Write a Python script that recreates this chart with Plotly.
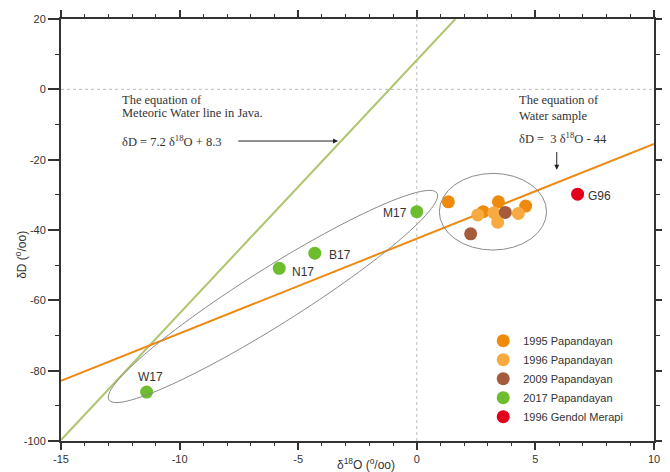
import numpy as np
import plotly.graph_objects as go

# ---- data (delta18O, deltaD) ----
p1995_x = [1.33, 3.44, 4.59, 2.80]
p1995_y = [-32.0, -32.0, -33.2, -34.8]
p1996_x = [2.57, 3.25, 3.41, 4.28]
p1996_y = [-35.7, -35.1, -37.8, -35.3]
p2009_x = [3.73, 2.27]
p2009_y = [-35.0, -41.1]
p2017_x = [-11.39, -5.80, -4.30, 0.0]
p2017_y = [-86.1, -50.9, -46.6, -34.8]
p2017_lbl = ["W17", "N17", "B17", "M17"]
g96_x = [6.78]
g96_y = [-29.8]
g96_lbl = ["G96"]

mwl_slope, mwl_int = 7.2, 8.3           # meteoric water line
mwl_x = [-15.0, (20 - 8.3) / 7.2]
ws_x = [-15.0, 10.0]                      # water-sample line as drawn
ws_y = [-82.9, -15.5]

x_tickvals = [-15, -10, -5, 0, 5, 10]
x_ticktext = ["-15", "-10", "-5", "0", "5", "10"]
y_tickvals = [20, 0, -20, -40, -60, -80, -100]
y_ticktext = ["20", "0", "-20", "-40", "-60", "-80", "-100"]

X_RANGE = [-15, 10]
Y_RANGE = [-100, 20]

FONT = "Liberation Sans, Arial, sans-serif"
SERIF = "Liberation Serif, Times New Roman, serif"
TXT = "#333333"

fig = go.Figure()

# reference dotted lines
fig.add_shape(type="line", x0=0, x1=0, y0=Y_RANGE[0], y1=Y_RANGE[1], xref="x", yref="y",
              line=dict(color="#bbbbbb", width=1, dash="dot"), layer="below")
fig.add_shape(type="line", x0=X_RANGE[0], x1=X_RANGE[1], y0=0, y1=0, xref="x", yref="y",
              line=dict(color="#bbbbbb", width=1, dash="dot"), layer="below")

# meteoric water line
fig.add_trace(go.Scatter(x=mwl_x, y=[mwl_slope * v + mwl_int for v in mwl_x], mode="lines",
                         line=dict(color="#aec56f", width=2), showlegend=False, hoverinfo="skip"))
# water sample line
fig.add_trace(go.Scatter(x=ws_x, y=ws_y, mode="lines",
                         line=dict(color="#ee8a14", width=2), showlegend=False, hoverinfo="skip"))

# ellipses
SX = 593 / (X_RANGE[1] - X_RANGE[0])
SY = 422 / (Y_RANGE[1] - Y_RANGE[0])
tipA = (-12.98, -88.3)
tipB = (0.85, -29.5)
half_w = 28.0
ax_, ay_ = tipA[0] * SX, tipA[1] * SY
bx_, by_ = tipB[0] * SX, tipB[1] * SY
cx, cy = (ax_ + bx_) / 2, (ay_ + by_) / 2
mx, my = (bx_ - ax_) / 2, (by_ - ay_) / 2
ml = np.hypot(mx, my)
nx, ny = -my / ml * half_w, mx / ml * half_w
t = np.linspace(0, 2 * np.pi, 120)
ex = (cx + np.cos(t) * mx + np.sin(t) * nx) / SX
ey = (cy + np.cos(t) * my + np.sin(t) * ny) / SY
path = "M " + " L ".join(f"{a:.4f},{b:.4f}" for a, b in zip(ex, ey)) + " Z"
fig.add_shape(type="path", path=path, xref="x", yref="y", line=dict(color="#8a8a8a", width=1))
fig.add_shape(type="circle", x0=0.95, x1=5.47, y0=-45.7, y1=-23.9, xref="x", yref="y",
              line=dict(color="#8a8a8a", width=1))

# data series
series = [
    ("1995 Papandayan", p1995_x, p1995_y, "#f08a0c"),
    ("1996 Papandayan", p1996_x, p1996_y, "#f6aa40"),
    ("2009 Papandayan", p2009_x, p2009_y, "#a65b3c"),
    ("2017 Papandayan", p2017_x, p2017_y, "#6dbd2e"),
    ("1996 Gendol Merapi", g96_x, g96_y, "#e2001a"),
]
for name, xs, ys, col in series:
    fig.add_trace(go.Scatter(x=xs, y=ys, mode="markers", name=name,
                             marker=dict(size=13, color=col, line=dict(width=0))))

# point labels
lbl_pos = {"W17": (-11.22, -81.7), "N17": (-4.79, -51.85), "B17": (-3.24, -47.1),
           "M17": (-0.92, -35.1), "G96": (7.72, -30.2)}
for k, (lx, ly) in lbl_pos.items():
    fig.add_annotation(x=lx, y=ly, text=k, showarrow=False, xanchor="center", yanchor="middle",
                       font=dict(family=FONT, size=12, color=TXT))

# equation texts
eq_texts = [
    (-12.51, -3.03, "The equation of"),
    (-12.51, -6.87, "Meteoric Water line in Java."),
    (-12.51, -14.69, "δD = 7.2 δ<sup>18</sup>O + 8.3"),
    (4.21, -3.03, "The equation of"),
    (4.21, -7.50, "Water sample"),
    (4.21, -13.92, "δD =  3 δ<sup>18</sup>O - 44"),
]
for tx, ty, s in eq_texts:
    fig.add_annotation(x=tx, y=ty, text=s, showarrow=False, xanchor="left", yanchor="middle",
                       font=dict(family=SERIF, size=12.5, color=TXT))

# arrows
fig.add_annotation(x=-3.32, y=-14.7, ax=-7.59, ay=-14.7, axref="x", ayref="y", xref="x", yref="y",
                   text="", showarrow=True, arrowhead=2, arrowsize=1, arrowwidth=1, arrowcolor="#222222")
fig.add_annotation(x=5.90, y=-22.9, ax=5.90, ay=-17.4, axref="x", ayref="y", xref="x", yref="y",
                   text="", showarrow=True, arrowhead=2, arrowsize=1, arrowwidth=1, arrowcolor="#222222")

# axis titles
fig.add_annotation(x=0.514, y=-0.0545, xref="paper", yref="paper", text="δ<sup>18</sup>O (<sup>o</sup>/oo)",
                   showarrow=False, xanchor="center", yanchor="middle",
                   font=dict(family=FONT, size=12, color=TXT))
fig.add_annotation(x=-0.0675, y=0.441, xref="paper", yref="paper", text="δD (<sup>o</sup>/oo)",
                   showarrow=False, xanchor="center", yanchor="middle", textangle=-90,
                   font=dict(family=FONT, size=12, color=TXT))

axis_common = dict(showgrid=False, zeroline=False, showline=True, linecolor="#333333", linewidth=2,
                   mirror="ticks", ticks="outside", tickcolor="#333333", tickwidth=1.5, automargin=False,
                   tickfont=dict(family=FONT, size=11, color=TXT))
fig.update_xaxes(range=X_RANGE, tickmode="array", tickvals=x_tickvals, ticktext=x_ticktext, ticklen=7,
                 minor=dict(tickmode="linear", tick0=0, dtick=1, ticklen=3, ticks="outside",
                            tickcolor="#333333", tickwidth=1.2),
                 **axis_common)
fig.update_yaxes(range=Y_RANGE, tickmode="array", tickvals=y_tickvals, ticktext=y_ticktext, ticklen=11,
                 minor=dict(tickmode="linear", tick0=0, dtick=10, ticklen=4, ticks="outside",
                            tickcolor="#333333", tickwidth=1.2),
                 **axis_common)

# the page body adds an 8px offset, so the figure is sized to fit the 670x472 window
fig.update_layout(
    width=662, height=464,
    margin=dict(l=53, r=16, t=11, b=31),
    paper_bgcolor="white", plot_bgcolor="white",
    legend=dict(x=0.712, y=0.272, xanchor="left", yanchor="top", bgcolor="rgba(0,0,0,0)",
                font=dict(family=FONT, size=11, color=TXT), itemsizing="trace"),
)

fig.write_html("out.html")
